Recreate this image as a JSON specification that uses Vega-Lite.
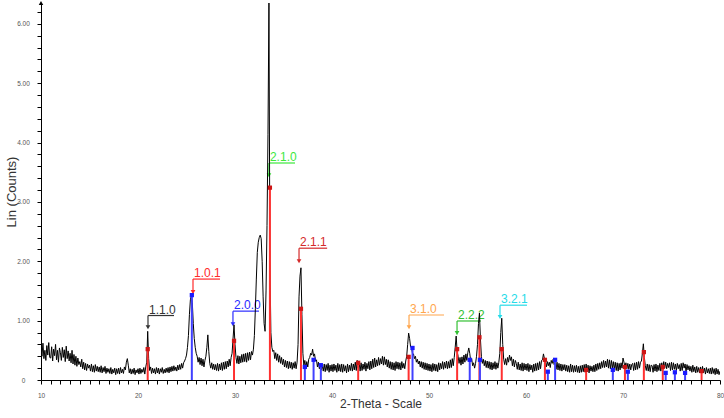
{
  "$schema": "https://vega.github.io/schema/vega-lite/v6.json",
  "autosize": "none",
  "width": 679,
  "height": 377,
  "padding": {"left": 41, "top": 3, "right": 4, "bottom": 38},
  "background": "white",
  "config": {"view": {"stroke": null}, "axis": {"grid": false, "domainColor": "#000", "tickColor": "#000", "labelFont": "Liberation Sans", "titleFont": "Liberation Sans", "titleFontWeight": "normal", "titleColor": "#333", "labelColor": "#555"}},
  "datasets": {
    "trace": [
{"t":10.0,"c":55},{"t":10.1,"c":40},{"t":10.2,"c":62},{"t":10.3,"c":36},{"t":10.4,"c":50},{"t":10.5,"c":33},{"t":10.6,"c":58},{"t":10.7,"c":42},{"t":10.8,"c":63},{"t":10.9,"c":38},
{"t":11.0,"c":37},{"t":11.1,"c":56},{"t":11.2,"c":32},{"t":11.3,"c":52},{"t":11.4,"c":41},{"t":11.5,"c":60},{"t":11.6,"c":34},{"t":11.7,"c":50},{"t":11.8,"c":30},{"t":11.9,"c":54},
{"t":12.0,"c":46},{"t":12.1,"c":33},{"t":12.2,"c":55},{"t":12.3,"c":38},{"t":12.4,"c":51},{"t":12.5,"c":31},{"t":12.6,"c":57},{"t":12.7,"c":36},{"t":12.8,"c":49},{"t":12.9,"c":32},
{"t":13.0,"c":45},{"t":13.1,"c":29},{"t":13.2,"c":50},{"t":13.3,"c":27},{"t":13.4,"c":43},{"t":13.5,"c":25},{"t":13.6,"c":40},{"t":13.7,"c":23},{"t":13.8,"c":37},{"t":13.9,"c":26},
{"t":14.0,"c":31},{"t":14.1,"c":22},{"t":14.2,"c":35},{"t":14.3,"c":19},{"t":14.4,"c":30},{"t":14.5,"c":17},{"t":14.6,"c":28},{"t":14.7,"c":16},{"t":14.8,"c":27},{"t":14.9,"c":20},
{"t":15.0,"c":25},{"t":15.1,"c":15},{"t":15.2,"c":27},{"t":15.3,"c":14},{"t":15.4,"c":24},{"t":15.5,"c":13},{"t":15.6,"c":26},{"t":15.7,"c":15},{"t":15.8,"c":23},{"t":15.9,"c":14},
{"t":16.0,"c":22},{"t":16.1,"c":13},{"t":16.2,"c":24},{"t":16.3,"c":12},{"t":16.4,"c":21},{"t":16.5,"c":14},{"t":16.6,"c":23},{"t":16.7,"c":11},{"t":16.8,"c":20},{"t":16.9,"c":13},
{"t":17.0,"c":19},{"t":17.1,"c":11},{"t":17.2,"c":21},{"t":17.3,"c":10},{"t":17.4,"c":18},{"t":17.5,"c":12},{"t":17.6,"c":20},{"t":17.7,"c":9},{"t":17.8,"c":19},{"t":17.9,"c":11},
{"t":18.0,"c":20},{"t":18.1,"c":10},{"t":18.2,"c":21},{"t":18.3,"c":12},{"t":18.4,"c":18},{"t":18.5,"c":11},{"t":18.6,"c":22},{"t":18.7,"c":17},{"t":18.8,"c":30},{"t":18.9,"c":36},
{"t":19.0,"c":25},{"t":19.1,"c":12},{"t":19.2,"c":19},{"t":19.3,"c":10},{"t":19.4,"c":18},{"t":19.5,"c":11},{"t":19.6,"c":20},{"t":19.7,"c":9},{"t":19.8,"c":17},{"t":19.9,"c":12},
{"t":20.0,"c":19},{"t":20.1,"c":10},{"t":20.2,"c":20},{"t":20.3,"c":11},{"t":20.4,"c":18},{"t":20.5,"c":13},{"t":20.6,"c":21},{"t":20.7,"c":10},{"t":20.8,"c":22},{"t":20.9,"c":30},
{"t":21.0,"c":82},{"t":21.1,"c":36},{"t":21.2,"c":16},{"t":21.3,"c":22},{"t":21.4,"c":11},{"t":21.5,"c":20},{"t":21.6,"c":12},{"t":21.7,"c":19},{"t":21.8,"c":10},{"t":21.9,"c":21},
{"t":22.0,"c":12},{"t":22.1,"c":20},{"t":22.2,"c":10},{"t":22.3,"c":19},{"t":22.4,"c":13},{"t":22.5,"c":21},{"t":22.6,"c":11},{"t":22.7,"c":18},{"t":22.8,"c":12},{"t":22.9,"c":20},
{"t":23.0,"c":13},{"t":23.1,"c":21},{"t":23.2,"c":12},{"t":23.3,"c":22},{"t":23.4,"c":14},{"t":23.5,"c":23},{"t":23.6,"c":15},{"t":23.7,"c":24},{"t":23.8,"c":16},{"t":23.9,"c":22},
{"t":24.0,"c":15},{"t":24.1,"c":25},{"t":24.2,"c":17},{"t":24.3,"c":26},{"t":24.4,"c":18},{"t":24.5,"c":28},{"t":24.6,"c":20},{"t":24.7,"c":29},{"t":24.8,"c":32},{"t":24.9,"c":36},
{"t":25.0,"c":42},{"t":25.1,"c":55},{"t":25.2,"c":75},{"t":25.3,"c":110},{"t":25.4,"c":135},{"t":25.5,"c":143},{"t":25.6,"c":130},{"t":25.7,"c":95},{"t":25.8,"c":70},{"t":25.9,"c":55},
{"t":26.0,"c":45},{"t":26.1,"c":40},{"t":26.2,"c":30},{"t":26.3,"c":38},{"t":26.4,"c":26},{"t":26.5,"c":37},{"t":26.6,"c":24},{"t":26.7,"c":35},{"t":26.8,"c":22},{"t":26.9,"c":33},
{"t":27.0,"c":40},{"t":27.1,"c":55},{"t":27.2,"c":76},{"t":27.3,"c":48},{"t":27.4,"c":28},{"t":27.5,"c":20},{"t":27.6,"c":29},{"t":27.7,"c":18},{"t":27.8,"c":27},{"t":27.9,"c":17},
{"t":28.0,"c":26},{"t":28.1,"c":16},{"t":28.2,"c":28},{"t":28.3,"c":15},{"t":28.4,"c":27},{"t":28.5,"c":17},{"t":28.6,"c":29},{"t":28.7,"c":16},{"t":28.8,"c":30},{"t":28.9,"c":18},
{"t":29.0,"c":31},{"t":29.1,"c":19},{"t":29.2,"c":32},{"t":29.3,"c":22},{"t":29.4,"c":35},{"t":29.5,"c":24},{"t":29.6,"c":38},{"t":29.7,"c":45},{"t":29.8,"c":70},{"t":29.9,"c":93},
{"t":30.0,"c":60},{"t":30.1,"c":38},{"t":30.2,"c":28},{"t":30.3,"c":41},{"t":30.4,"c":27},{"t":30.5,"c":40},{"t":30.6,"c":29},{"t":30.7,"c":43},{"t":30.8,"c":30},{"t":30.9,"c":44},
{"t":31.0,"c":31},{"t":31.1,"c":45},{"t":31.2,"c":30},{"t":31.3,"c":46},{"t":31.4,"c":33},{"t":31.5,"c":47},{"t":31.6,"c":34},{"t":31.7,"c":48},{"t":31.8,"c":42},{"t":31.9,"c":52},
{"t":32.0,"c":75},{"t":32.1,"c":120},{"t":32.2,"c":170},{"t":32.3,"c":215},{"t":32.4,"c":232},{"t":32.5,"c":240},{"t":32.6,"c":244},{"t":32.7,"c":238},{"t":32.8,"c":200},{"t":32.9,"c":140},
{"t":33.0,"c":95},{"t":33.1,"c":82},{"t":33.2,"c":150},{"t":33.3,"c":260},{"t":33.4,"c":413},{"t":33.5,"c":635},{"t":33.6,"c":200},{"t":33.7,"c":80},{"t":33.8,"c":55},{"t":33.9,"c":48},
{"t":34.0,"c":50},{"t":34.1,"c":36},{"t":34.2,"c":46},{"t":34.3,"c":33},{"t":34.4,"c":44},{"t":34.5,"c":30},{"t":34.6,"c":41},{"t":34.7,"c":28},{"t":34.8,"c":38},{"t":34.9,"c":26},
{"t":35.0,"c":35},{"t":35.1,"c":22},{"t":35.2,"c":33},{"t":35.3,"c":21},{"t":35.4,"c":32},{"t":35.5,"c":19},{"t":35.6,"c":31},{"t":35.7,"c":20},{"t":35.8,"c":30},{"t":35.9,"c":18},
{"t":36.0,"c":29},{"t":36.1,"c":20},{"t":36.2,"c":31},{"t":36.3,"c":19},{"t":36.4,"c":30},{"t":36.5,"c":60},{"t":36.6,"c":140},{"t":36.7,"c":175},{"t":36.8,"c":189},{"t":36.9,"c":110},
{"t":37.0,"c":45},{"t":37.1,"c":24},{"t":37.2,"c":33},{"t":37.3,"c":20},{"t":37.4,"c":31},{"t":37.5,"c":22},{"t":37.6,"c":35},{"t":37.7,"c":38},{"t":37.8,"c":45},{"t":37.9,"c":42},
{"t":38.0,"c":52},{"t":38.1,"c":40},{"t":38.2,"c":44},{"t":38.3,"c":32},{"t":38.4,"c":34},{"t":38.5,"c":22},{"t":38.6,"c":30},{"t":38.7,"c":19},{"t":38.8,"c":27},{"t":38.9,"c":17},
{"t":39.0,"c":25},{"t":39.1,"c":15},{"t":39.2,"c":27},{"t":39.3,"c":14},{"t":39.4,"c":26},{"t":39.5,"c":16},{"t":39.6,"c":28},{"t":39.7,"c":13},{"t":39.8,"c":25},{"t":39.9,"c":15},
{"t":40.0,"c":26},{"t":40.1,"c":14},{"t":40.2,"c":27},{"t":40.3,"c":16},{"t":40.4,"c":25},{"t":40.5,"c":13},{"t":40.6,"c":28},{"t":40.7,"c":15},{"t":40.8,"c":26},{"t":40.9,"c":14},
{"t":41.0,"c":27},{"t":41.1,"c":13},{"t":41.2,"c":26},{"t":41.3,"c":15},{"t":41.4,"c":24},{"t":41.5,"c":12},{"t":41.6,"c":27},{"t":41.7,"c":14},{"t":41.8,"c":25},{"t":41.9,"c":16},
{"t":42.0,"c":28},{"t":42.1,"c":15},{"t":42.2,"c":27},{"t":42.3,"c":17},{"t":42.4,"c":30},{"t":42.5,"c":16},{"t":42.6,"c":33},{"t":42.7,"c":20},{"t":42.8,"c":28},{"t":42.9,"c":15},
{"t":43.0,"c":29},{"t":43.1,"c":16},{"t":43.2,"c":27},{"t":43.3,"c":18},{"t":43.4,"c":30},{"t":43.5,"c":15},{"t":43.6,"c":28},{"t":43.7,"c":19},{"t":43.8,"c":31},{"t":43.9,"c":17},
{"t":44.0,"c":32},{"t":44.1,"c":19},{"t":44.2,"c":35},{"t":44.3,"c":21},{"t":44.4,"c":37},{"t":44.5,"c":22},{"t":44.6,"c":34},{"t":44.7,"c":24},{"t":44.8,"c":38},{"t":44.9,"c":25},
{"t":45.0,"c":36},{"t":45.1,"c":27},{"t":45.2,"c":40},{"t":45.3,"c":25},{"t":45.4,"c":39},{"t":45.5,"c":26},{"t":45.6,"c":35},{"t":45.7,"c":22},{"t":45.8,"c":34},{"t":45.9,"c":20},
{"t":46.0,"c":31},{"t":46.1,"c":18},{"t":46.2,"c":30},{"t":46.3,"c":17},{"t":46.4,"c":29},{"t":46.5,"c":16},{"t":46.6,"c":31},{"t":46.7,"c":19},{"t":46.8,"c":30},{"t":46.9,"c":18},
{"t":47.0,"c":29},{"t":47.1,"c":17},{"t":47.2,"c":31},{"t":47.3,"c":20},{"t":47.4,"c":28},{"t":47.5,"c":19},{"t":47.6,"c":32},{"t":47.7,"c":40},{"t":47.8,"c":60},{"t":47.9,"c":79},
{"t":48.0,"c":70},{"t":48.1,"c":56},{"t":48.2,"c":54},{"t":48.3,"c":45},{"t":48.4,"c":44},{"t":48.5,"c":36},{"t":48.6,"c":40},{"t":48.7,"c":30},{"t":48.8,"c":35},{"t":48.9,"c":27},
{"t":49.0,"c":32},{"t":49.1,"c":22},{"t":49.2,"c":31},{"t":49.3,"c":20},{"t":49.4,"c":30},{"t":49.5,"c":18},{"t":49.6,"c":29},{"t":49.7,"c":17},{"t":49.8,"c":28},{"t":49.9,"c":16},
{"t":50.0,"c":27},{"t":50.1,"c":15},{"t":50.2,"c":26},{"t":50.3,"c":14},{"t":50.4,"c":28},{"t":50.5,"c":16},{"t":50.6,"c":27},{"t":50.7,"c":15},{"t":50.8,"c":26},{"t":50.9,"c":14},
{"t":51.0,"c":29},{"t":51.1,"c":17},{"t":51.2,"c":28},{"t":51.3,"c":19},{"t":51.4,"c":31},{"t":51.5,"c":18},{"t":51.6,"c":30},{"t":51.7,"c":20},{"t":51.8,"c":32},{"t":51.9,"c":19},
{"t":52.0,"c":31},{"t":52.1,"c":20},{"t":52.2,"c":34},{"t":52.3,"c":21},{"t":52.4,"c":36},{"t":52.5,"c":24},{"t":52.6,"c":38},{"t":52.7,"c":55},{"t":52.8,"c":74},{"t":52.9,"c":48},
{"t":53.0,"c":40},{"t":53.1,"c":28},{"t":53.2,"c":38},{"t":53.3,"c":25},{"t":53.4,"c":39},{"t":53.5,"c":27},{"t":53.6,"c":42},{"t":53.7,"c":30},{"t":53.8,"c":44},{"t":53.9,"c":33},
{"t":54.0,"c":46},{"t":54.1,"c":54},{"t":54.2,"c":45},{"t":54.3,"c":32},{"t":54.4,"c":36},{"t":54.5,"c":24},{"t":54.6,"c":29},{"t":54.7,"c":20},{"t":54.8,"c":28},{"t":54.9,"c":40},
{"t":55.0,"c":60},{"t":55.1,"c":95},{"t":55.2,"c":113},{"t":55.3,"c":70},{"t":55.4,"c":40},{"t":55.5,"c":28},{"t":55.6,"c":35},{"t":55.7,"c":24},{"t":55.8,"c":33},{"t":55.9,"c":21},
{"t":56.0,"c":32},{"t":56.1,"c":20},{"t":56.2,"c":31},{"t":56.3,"c":18},{"t":56.4,"c":30},{"t":56.5,"c":17},{"t":56.6,"c":29},{"t":56.7,"c":19},{"t":56.8,"c":31},{"t":56.9,"c":18},
{"t":57.0,"c":29},{"t":57.1,"c":20},{"t":57.2,"c":30},{"t":57.3,"c":45},{"t":57.4,"c":80},{"t":57.5,"c":104},{"t":57.6,"c":60},{"t":57.7,"c":35},{"t":57.8,"c":26},{"t":57.9,"c":36},
{"t":58.0,"c":25},{"t":58.1,"c":38},{"t":58.2,"c":30},{"t":58.3,"c":42},{"t":58.4,"c":33},{"t":58.5,"c":39},{"t":58.6,"c":24},{"t":58.7,"c":35},{"t":58.8,"c":22},{"t":58.9,"c":33},
{"t":59.0,"c":28},{"t":59.1,"c":18},{"t":59.2,"c":30},{"t":59.3,"c":17},{"t":59.4,"c":27},{"t":59.5,"c":16},{"t":59.6,"c":29},{"t":59.7,"c":15},{"t":59.8,"c":28},{"t":59.9,"c":17},
{"t":60.0,"c":27},{"t":60.1,"c":16},{"t":60.2,"c":28},{"t":60.3,"c":14},{"t":60.4,"c":26},{"t":60.5,"c":17},{"t":60.6,"c":25},{"t":60.7,"c":13},{"t":60.8,"c":27},{"t":60.9,"c":15},
{"t":61.0,"c":28},{"t":61.1,"c":16},{"t":61.2,"c":29},{"t":61.3,"c":17},{"t":61.4,"c":31},{"t":61.5,"c":19},{"t":61.6,"c":33},{"t":61.7,"c":34},{"t":61.8,"c":44},{"t":61.9,"c":36},
{"t":62.0,"c":33},{"t":62.1,"c":22},{"t":62.2,"c":31},{"t":62.3,"c":24},{"t":62.4,"c":30},{"t":62.5,"c":21},{"t":62.6,"c":33},{"t":62.7,"c":28},{"t":62.8,"c":35},{"t":62.9,"c":26},
{"t":63.0,"c":31},{"t":63.1,"c":18},{"t":63.2,"c":30},{"t":63.3,"c":17},{"t":63.4,"c":28},{"t":63.5,"c":16},{"t":63.6,"c":27},{"t":63.7,"c":15},{"t":63.8,"c":26},{"t":63.9,"c":17},
{"t":64.0,"c":26},{"t":64.1,"c":15},{"t":64.2,"c":25},{"t":64.3,"c":14},{"t":64.4,"c":24},{"t":64.5,"c":13},{"t":64.6,"c":27},{"t":64.7,"c":14},{"t":64.8,"c":25},{"t":64.9,"c":13},
{"t":65.0,"c":24},{"t":65.1,"c":14},{"t":65.2,"c":25},{"t":65.3,"c":13},{"t":65.4,"c":23},{"t":65.5,"c":12},{"t":65.6,"c":24},{"t":65.7,"c":13},{"t":65.8,"c":25},{"t":65.9,"c":14},
{"t":66.0,"c":26},{"t":66.1,"c":13},{"t":66.2,"c":27},{"t":66.3,"c":14},{"t":66.4,"c":25},{"t":66.5,"c":12},{"t":66.6,"c":24},{"t":66.7,"c":15},{"t":66.8,"c":23},{"t":66.9,"c":14},
{"t":67.0,"c":25},{"t":67.1,"c":14},{"t":67.2,"c":27},{"t":67.3,"c":16},{"t":67.4,"c":28},{"t":67.5,"c":18},{"t":67.6,"c":29},{"t":67.7,"c":19},{"t":67.8,"c":31},{"t":67.9,"c":21},
{"t":68.0,"c":33},{"t":68.1,"c":21},{"t":68.2,"c":32},{"t":68.3,"c":22},{"t":68.4,"c":35},{"t":68.5,"c":20},{"t":68.6,"c":34},{"t":68.7,"c":19},{"t":68.8,"c":33},{"t":68.9,"c":20},
{"t":69.0,"c":31},{"t":69.1,"c":18},{"t":69.2,"c":30},{"t":69.3,"c":16},{"t":69.4,"c":29},{"t":69.5,"c":15},{"t":69.6,"c":28},{"t":69.7,"c":17},{"t":69.8,"c":29},{"t":69.9,"c":20},
{"t":70.0,"c":37},{"t":70.1,"c":30},{"t":70.2,"c":22},{"t":70.3,"c":29},{"t":70.4,"c":19},{"t":70.5,"c":28},{"t":70.6,"c":18},{"t":70.7,"c":27},{"t":70.8,"c":17},{"t":70.9,"c":26},
{"t":71.0,"c":28},{"t":71.1,"c":16},{"t":71.2,"c":29},{"t":71.3,"c":17},{"t":71.4,"c":30},{"t":71.5,"c":18},{"t":71.6,"c":31},{"t":71.7,"c":20},{"t":71.8,"c":30},{"t":71.9,"c":32},
{"t":72.0,"c":45},{"t":72.1,"c":61},{"t":72.2,"c":38},{"t":72.3,"c":24},{"t":72.4,"c":16},{"t":72.5,"c":27},{"t":72.6,"c":15},{"t":72.7,"c":26},{"t":72.8,"c":14},{"t":72.9,"c":25},
{"t":73.0,"c":24},{"t":73.1,"c":13},{"t":73.2,"c":26},{"t":73.3,"c":15},{"t":73.4,"c":27},{"t":73.5,"c":14},{"t":73.6,"c":25},{"t":73.7,"c":16},{"t":73.8,"c":28},{"t":73.9,"c":15},
{"t":74.0,"c":29},{"t":74.1,"c":17},{"t":74.2,"c":31},{"t":74.3,"c":20},{"t":74.4,"c":30},{"t":74.5,"c":19},{"t":74.6,"c":28},{"t":74.7,"c":21},{"t":74.8,"c":29},{"t":74.9,"c":16},
{"t":75.0,"c":30},{"t":75.1,"c":17},{"t":75.2,"c":29},{"t":75.3,"c":18},{"t":75.4,"c":27},{"t":75.5,"c":16},{"t":75.6,"c":28},{"t":75.7,"c":19},{"t":75.8,"c":26},{"t":75.9,"c":15},
{"t":76.0,"c":28},{"t":76.1,"c":16},{"t":76.2,"c":29},{"t":76.3,"c":20},{"t":76.4,"c":27},{"t":76.5,"c":14},{"t":76.6,"c":26},{"t":76.7,"c":17},{"t":76.8,"c":24},{"t":76.9,"c":15},
{"t":77.0,"c":23},{"t":77.1,"c":13},{"t":77.2,"c":25},{"t":77.3,"c":14},{"t":77.4,"c":22},{"t":77.5,"c":12},{"t":77.6,"c":23},{"t":77.7,"c":13},{"t":77.8,"c":21},{"t":77.9,"c":12},
{"t":78.0,"c":22},{"t":78.1,"c":11},{"t":78.2,"c":23},{"t":78.3,"c":12},{"t":78.4,"c":20},{"t":78.5,"c":10},{"t":78.6,"c":21},{"t":78.7,"c":12},{"t":78.8,"c":19},{"t":78.9,"c":11},
{"t":79.0,"c":20},{"t":79.1,"c":10},{"t":79.2,"c":21},{"t":79.3,"c":11},{"t":79.4,"c":19},{"t":79.5,"c":9},{"t":79.6,"c":20},{"t":79.7,"c":10},{"t":79.8,"c":18},{"t":79.9,"c":9},
{"t":80.0,"c":15}
    ],
    "sticks": [
      {"ph":"A","t":21.0,"h":52},{"ph":"A","t":29.9,"h":66},{"ph":"A","t":33.6,"h":324},{"ph":"A","t":36.8,"h":120},{"ph":"A","t":42.7,"h":29},{"ph":"A","t":47.9,"h":39},{"ph":"A","t":52.9,"h":52},{"ph":"A","t":55.2,"h":72},{"ph":"A","t":57.5,"h":52},{"ph":"A","t":61.95,"h":34},{"ph":"A","t":66.2,"h":17},{"ph":"A","t":70.2,"h":22},{"ph":"A","t":72.15,"h":47},{"ph":"A","t":74.1,"h":22},{"ph":"A","t":78.1,"h":15},
      {"ph":"B","t":25.55,"h":143},{"ph":"B","t":37.2,"h":22},{"ph":"B","t":38.1,"h":34},{"ph":"B","t":38.85,"h":25},{"ph":"B","t":48.3,"h":54},{"ph":"B","t":54.2,"h":34},{"ph":"B","t":55.25,"h":34},{"ph":"B","t":62.25,"h":14},{"ph":"B","t":63.0,"h":34},{"ph":"B","t":68.95,"h":17},{"ph":"B","t":70.5,"h":14},{"ph":"B","t":74.4,"h":12},{"ph":"B","t":75.35,"h":13},{"ph":"B","t":76.4,"h":12}
    ],
    "anno": [
      {"hkl":"1.1.0","t":21.03,"tip":89,"top":108.6,"t2":23.71},
      {"hkl":"1.0.1","t":25.67,"tip":148,"top":170,"t2":28.45},
      {"hkl":"2.0.0","t":29.79,"tip":94,"top":116,"t2":32.47},
      {"hkl":"2.1.0","t":33.5,"tip":345,"top":365.5,"t2":36.19},
      {"hkl":"2.1.1","t":36.6,"tip":200,"top":222,"t2":39.5},
      {"hkl":"3.1.0","t":47.94,"tip":89,"top":109.5,"t2":51.55},
      {"hkl":"2.2.2","t":52.89,"tip":79,"top":99.4,"t2":55.36},
      {"hkl":"3.2.1","t":57.32,"tip":106,"top":126,"t2":60.1}
    ],
    "axisend": [{"t":10,"c":635}]
  },
  "layer": [
    {
      "data": {"name": "trace"},
      "mark": {"type": "line", "color": "#000000", "strokeWidth": 1, "opacity": 0},
      "encoding": {
        "x": {"field": "t", "type": "quantitative", "scale": {"domain": [10, 80], "nice": false, "zero": false},
          "axis": {"title": "2-Theta - Scale", "titleFontSize": 12, "titlePadding": 0, "tickCount": 200, "values": [10,11,12,13,14,15,16,17,18,19,20,21,22,23,24,25,26,27,28,29,30,31,32,33,34,35,36,37,38,39,40,41,42,43,44,45,46,47,48,49,50,51,52,53,54,55,56,57,58,59,60,61,62,63,64,65,66,67,68,69,70,71,72,73,74,75,76,77,78,79,80],
            "labelExpr": "datum.value % 10 == 0 ? '' + datum.value : ''", "labelOverlap": false, "labelBound": false, "labelFontSize": 6.5, "labelPadding": 8, "labelFlush": false, "tickSize": 4}},
        "y": {"field": "c", "type": "quantitative", "scale": {"domain": [0, 635], "nice": false},
          "axis": {"title": "Lin (Counts)", "titleFontSize": 13, "titlePadding": -2, "tickCount": 200, "values": [0,20,40,60,80,100,120,140,160,180,200,220,240,260,280,300,320,340,360,380,400,420,440,460,480,500,520,540,560,580,600,620],
            "labelExpr": "datum.value == 0 ? '0' : (datum.value % 100 == 0 ? format(datum.value / 100, '.2f') : '')", "labelOverlap": false, "labelBound": false, "labelFontSize": 6.5, "labelAlign": "center", "labelPadding": 14, "labelFlush": false, "tickSize": 4}}
      }
    },
    {
      "data": {"name": "anno"},
      "mark": {"type": "rule", "strokeWidth": 1.2},
      "encoding": {
        "x": {"field": "t", "type": "quantitative"},
        "y": {"field": "tip", "type": "quantitative"},
        "y2": {"field": "top"},
        "color": {"field": "hkl", "type": "nominal", "legend": null, "scale": {"domain": ["1.1.0","1.0.1","2.0.0","2.1.0","2.1.1","3.1.0","2.2.2","3.2.1"], "range": ["#333333","#ff2b2b","#2b2bff","#3de83d","#d42a2a","#ffa64d","#33c033","#26dbe8"]}}
      }
    },
    {
      "data": {"name": "anno"},
      "mark": {"type": "rule", "strokeWidth": 1.2},
      "encoding": {
        "x": {"field": "t", "type": "quantitative"},
        "x2": {"field": "t2"},
        "y": {"field": "top", "type": "quantitative"},
        "color": {"field": "hkl", "type": "nominal", "legend": null}
      }
    },
    {
      "data": {"name": "anno"},
      "mark": {"type": "point", "shape": "triangle-down", "filled": true, "size": 22, "opacity": 1},
      "encoding": {
        "x": {"field": "t", "type": "quantitative"},
        "y": {"field": "tip", "type": "quantitative"},
        "color": {"field": "hkl", "type": "nominal", "legend": null}
      }
    },
    {
      "data": {"name": "anno"},
      "mark": {"type": "text", "align": "left", "baseline": "alphabetic", "dx": 1, "dy": -2, "font": "Liberation Sans", "fontSize": 12},
      "encoding": {
        "x": {"field": "t", "type": "quantitative"},
        "y": {"field": "top", "type": "quantitative"},
        "text": {"field": "hkl"},
        "color": {"field": "hkl", "type": "nominal", "legend": null}
      }
    },
    {
      "data": {"name": "trace"},
      "mark": {"type": "line", "color": "#000000", "strokeWidth": 1, "clip": true},
      "encoding": {
        "x": {"field": "t", "type": "quantitative"},
        "y": {"field": "c", "type": "quantitative"}
      }
    },
    {
      "data": {"name": "sticks"},
      "mark": {"type": "rule", "strokeWidth": 2},
      "encoding": {
        "x": {"field": "t", "type": "quantitative"},
        "y": {"field": "h", "type": "quantitative"},
        "y2": {"datum": 0},
        "stroke": {"field": "ph", "type": "nominal", "legend": null, "scale": {"domain": ["A", "B"], "range": ["#ff3030", "#4040ff"]}}
      }
    },
    {
      "data": {"name": "sticks"},
      "mark": {"type": "square", "size": 18, "opacity": 1},
      "encoding": {
        "x": {"field": "t", "type": "quantitative"},
        "y": {"field": "h", "type": "quantitative"},
        "fill": {"field": "ph", "type": "nominal", "legend": null, "scale": {"domain": ["A", "B"], "range": ["#cc1515", "#1a1aff"]}}
      }
    },
    {
      "data": {"name": "axisend"},
      "mark": {"type": "point", "shape": "triangle-up", "filled": true, "size": 20, "color": "#000", "opacity": 1, "clip": false},
      "encoding": {
        "x": {"field": "t", "type": "quantitative"},
        "y": {"field": "c", "type": "quantitative"}
      }
    }
  ]
}
